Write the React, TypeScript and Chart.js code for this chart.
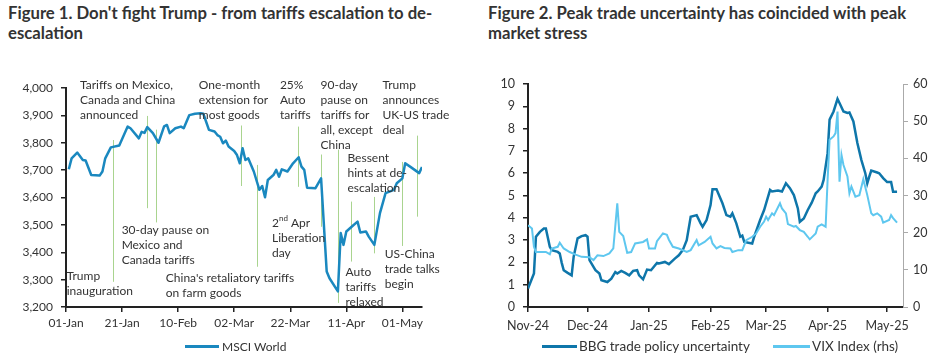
import React, { useEffect, useRef } from "react";
import { Chart, registerables } from "chart.js";

Chart.register(...registerables);

// ---------------- Figure 1 data ----------------
// day offset from 01-Jan-2025
const msciDays = [1, 2, 4, 6, 7, 9, 12, 13, 14, 16, 19, 22, 23, 26, 27, 28, 29, 31, 33, 35, 36, 37, 39, 41, 42, 44, 46, 48, 49, 51, 53, 54, 55, 56, 57, 58, 60, 61, 62, 63, 64, 65, 67, 69, 70, 71, 72, 74, 75, 76, 77, 79, 81, 83, 84, 85, 86, 89, 91, 93, 94, 97, 98, 99, 100, 102, 104, 105, 107, 108, 110, 112, 114, 117, 118, 120, 121, 123, 126, 127];
const msciValues = [3703, 3743, 3764, 3737, 3735, 3682, 3680, 3695, 3743, 3783, 3790, 3859, 3853, 3816, 3840, 3836, 3857, 3835, 3800, 3860, 3865, 3835, 3853, 3859, 3853, 3901, 3906, 3908, 3906, 3847, 3841, 3828, 3822, 3798, 3808, 3786, 3770, 3755, 3725, 3780, 3737, 3743, 3695, 3628, 3642, 3601, 3664, 3682, 3701, 3676, 3703, 3695, 3725, 3747, 3713, 3701, 3636, 3634, 3670, 3330, 3305, 3257, 3470, 3427, 3476, 3494, 3512, 3472, 3476, 3457, 3427, 3543, 3616, 3628, 3652, 3670, 3725, 3711, 3689, 3711];
const fig1TickDays = [0, 20, 40, 60, 80, 100, 120];
const fig1TickLabels = ["01-Jan", "21-Jan", "10-Feb", "02-Mar", "22-Mar", "11-Apr", "01-May"];

const fig1EventTexts: string[][] = [
  ["Trump", "inauguration"],
  ["Tariffs on Mexico,", "Canada and China", "announced"],
  ["30-day pause on", "Mexico and", "Canada tariffs"],
  ["One-month", "extension for", "most goods"],
  ["China's retaliatory tariffs", "on farm goods"],
  ["25%", "Auto", "tariffs"],
  ["2nd Apr", "Liberation", "day"],
  ["90-day", "pause on", "tariffs for", "all, except", "China"],
  ["Auto", "tariffs", "relaxed"],
  ["Bessent", "hints at de-", "escalation"],
  ["US-China", "trade talks", "begin"],
  ["Trump", "announces", "UK-US trade", "deal"],
];
const fig1EventTextDays = [0.25, 5, 19.85, 47.4, 35.6, 76.3, 73.5, 90.8, 99.7, 100.4, 113.7, 112.9];
const fig1EventTextValues = [3313, 4011, 3479, 4011, 3305, 4011, 3508, 4011, 3329, 3745, 3394, 4011];
const fig1EventLineDays = [16.75, 28.8, 32.1, 62.6, 68, 82.7, 91.1, 96.9, 101.8, 109.8, 120, 125.3];
const fig1EventLineTops = [3810, 3898, 3848, 3863, 3719, 3859, 3757, 3775, 3585, 3602, 3730, 3826];
const fig1EventLineBottoms = [3292, 3561, 3509, 3642, 3347, 3639, 3493, 3215, 3366, 3396, 3423, 3530];

// ---------------- Figure 2 data ----------------
// day offset from 01-Nov-2024
const bbgDays = [0, 1, 3, 4, 6, 8, 9, 11, 12, 15, 16, 17, 18, 20, 22, 23, 25, 27, 29, 30, 31, 33, 34, 36, 37, 40, 42, 44, 45, 47, 49, 51, 53, 55, 56, 58, 60, 62, 65, 66, 69, 71, 74, 76, 78, 80, 82, 85, 87, 88, 90, 92, 93, 95, 98, 100, 102, 103, 105, 107, 108, 109, 113, 114, 117, 119, 122, 123, 126, 128, 130, 132, 134, 136, 137, 139, 141, 143, 145, 146, 148, 149, 151, 152, 154, 156, 157, 159, 161, 162, 164, 166, 168, 170, 171, 172, 173, 176, 177, 179, 181, 183, 184, 186];
const bbgValues = [0.83, 1.05, 1.5, 3.15, 3.37, 3.52, 3.52, 2.7, 2.55, 2.47, 2.4, 1.98, 1.65, 1.53, 1.42, 2.25, 3.08, 3.18, 3.22, 3.15, 2.1, 1.8, 1.65, 1.5, 1.2, 1.12, 1.27, 1.57, 1.5, 1.62, 1.53, 1.42, 1.62, 1.65, 1.42, 1.24, 1.68, 1.65, 1.98, 1.95, 2.02, 1.92, 2.17, 2.32, 2.55, 3.0, 4.05, 4.12, 3.75, 3.6, 3.9, 4.57, 5.28, 5.28, 4.65, 4.12, 4.05, 4.2, 3.75, 3.15, 3.2, 2.92, 2.85, 3.15, 3.9, 4.35, 5.25, 5.18, 5.22, 5.18, 5.55, 5.33, 5.02, 4.42, 3.82, 3.97, 4.35, 4.68, 5.1, 5.18, 5.4, 5.7, 6.9, 8.4, 8.77, 9.33, 9.15, 8.77, 8.7, 8.72, 8.32, 7.35, 6.6, 6.0, 5.55, 5.85, 6.12, 6.03, 6.0, 5.78, 5.6, 5.6, 5.17, 5.17];
const vixDays = [0, 2, 3, 4, 7, 9, 11, 12, 15, 16, 18, 21, 24, 27, 31, 33, 35, 38, 41, 43, 45, 46, 48, 50, 52, 54, 58, 60, 61, 64, 65, 68, 70, 71, 73, 76, 80, 82, 85, 86, 89, 92, 93, 95, 97, 99, 102, 103, 106, 108, 110, 113, 115, 117, 119, 120, 121, 123, 124, 127, 128, 130, 131, 134, 135, 137, 139, 141, 142, 145, 146, 148, 150, 151, 152, 154, 155, 156, 157, 158, 159, 161, 162, 163, 165, 167, 169, 171, 173, 174, 176, 178, 179, 182, 183, 184, 186];
const vixValues = [22.0, 21.1, 16.2, 14.8, 14.8, 14.8, 14.2, 15.75, 16.2, 17.3, 15.75, 14.8, 14.1, 13.5, 13.4, 12.6, 13.9, 13.7, 14.4, 15.75, 27.9, 20.2, 19.1, 14.6, 14.8, 17.1, 17.5, 18.2, 15.75, 15.75, 17.7, 19.8, 19.4, 18.1, 16.2, 15.75, 14.8, 15.3, 18.0, 16.6, 17.5, 18.9, 17.1, 15.75, 16.4, 15.9, 15.75, 14.8, 15.3, 15.3, 18.0, 18.9, 19.8, 21.6, 23.0, 24.3, 23.4, 25.2, 24.7, 27.9, 26.5, 25.2, 22.3, 21.6, 21.8, 20.7, 20.2, 18.9, 18.2, 19.8, 21.6, 22.2, 21.6, 34.2, 45.0, 45.9, 46.8, 52.6, 33.7, 40.9, 38.2, 35.1, 30.6, 32.4, 29.7, 30.1, 34.4, 30.1, 25.2, 24.7, 25.2, 24.3, 22.7, 23.4, 24.7, 23.9, 22.7];
const fig2TickDays = [0, 30, 61, 92, 120, 151, 181];
const fig2TickLabels = ["Nov-24", "Dec-24", "Jan-25", "Feb-25", "Mar-25", "Apr-25", "May-25"];

// ---------------- styles ----------------
const FONT = "Lato, 'Liberation Sans', sans-serif";
const TEXT = "#333333";
const MSCI_COLOR = "#1a88bf";
const BBG_COLOR = "#0e76aa";
const VIX_COLOR = "#5ec7ef";
const EVENT_LINE = "#a9d48f";

function drawEventLine(ctx: CanvasRenderingContext2D, text: string, x: number, y: number) {
  if (text.startsWith("2nd")) {
    ctx.fillText("2", x, y);
    const w = ctx.measureText("2").width;
    ctx.save();
    ctx.font = `8px ${FONT}`;
    ctx.fillText("nd", x + w, y - 4);
    const w2 = ctx.measureText("nd").width;
    ctx.restore();
    ctx.fillText(text.slice(3), x + w + w2, y);
  } else {
    ctx.fillText(text, x, y);
  }
}

const eventsPlugin = {
  id: "fig1Events",
  beforeDatasetsDraw(chart: any) {
    const { ctx, scales } = chart;
    const x = scales.x;
    const y = scales.y;
    ctx.save();
    ctx.strokeStyle = EVENT_LINE;
    ctx.lineWidth = 1;
    fig1EventLineDays.forEach((d, i) => {
      const px = Math.round(x.getPixelForValue(d)) + 0.5;
      ctx.beginPath();
      ctx.moveTo(px, y.getPixelForValue(fig1EventLineTops[i]));
      ctx.lineTo(px, y.getPixelForValue(fig1EventLineBottoms[i]));
      ctx.stroke();
    });
    ctx.restore();
  },
  afterDatasetsDraw(chart: any) {
    const { ctx, scales } = chart;
    const x = scales.x;
    const y = scales.y;
    ctx.save();
    ctx.fillStyle = TEXT;
    ctx.font = `12px ${FONT}`;
    ctx.textBaseline = "middle";
    ctx.textAlign = "left";
    fig1EventTexts.forEach((lines, i) => {
      const px = x.getPixelForValue(fig1EventTextDays[i]);
      const py = y.getPixelForValue(fig1EventTextValues[i]);
      lines.forEach((t, j) => drawEventLine(ctx, t, px, py + j * 15));
    });
    ctx.restore();
  },
};

function Figure1() {
  const ref = useRef<HTMLCanvasElement>(null);
  useEffect(() => {
    const chart = new Chart(ref.current as HTMLCanvasElement, {
      type: "line",
      data: {
        datasets: [
          {
            label: "MSCI World",
            data: msciDays.map((d, i) => ({ x: d, y: msciValues[i] })),
            borderColor: MSCI_COLOR,
            borderWidth: 2.5,
            pointRadius: 0,
            tension: 0,
            borderJoinStyle: "round",
          },
        ],
      },
      options: {
        animation: false,
        responsive: false,
        events: [],
        layout: { padding: { top: 88, right: 46, bottom: 20, left: 0 } },
        plugins: { legend: { display: false }, tooltip: { enabled: false } },
        scales: {
          x: {
            type: "linear",
            min: 0,
            max: 127,
            afterBuildTicks: (s: any) => {
              s.ticks = fig1TickDays.map((v) => ({ value: v }));
            },
            afterFit: (s: any) => {
              s.height = 36;
            },
            ticks: {
              autoSkip: false,
              maxRotation: 0,
              padding: 4,
              color: TEXT,
              font: { family: FONT, size: 12 },
              callback: (_v: any, i: number) => fig1TickLabels[i],
            },
            grid: { drawOnChartArea: false, drawTicks: true, tickLength: 5, color: "#222", lineWidth: 1.5 },
            border: { display: true, color: "#222", width: 2 },
          },
          y: {
            type: "linear",
            min: 3200,
            max: 4000,
            afterFit: (s: any) => {
              s.width = 66;
            },
            ticks: {
              stepSize: 100,
              padding: 8,
              color: TEXT,
              font: { family: FONT, size: 12 },
              callback: (v: any) => Number(v).toLocaleString("en-US"),
            },
            grid: { drawOnChartArea: false, drawTicks: true, tickLength: 5, color: "#222", lineWidth: 1.5 },
            border: { display: true, color: "#222", width: 2 },
          },
        },
      },
      plugins: [eventsPlugin],
    } as any);
    return () => chart.destroy();
  }, []);
  return <canvas ref={ref} width={468} height={363} style={{ position: "absolute", left: 0, top: 0 }} />;
}

function Figure2() {
  const ref = useRef<HTMLCanvasElement>(null);
  useEffect(() => {
    const chart = new Chart(ref.current as HTMLCanvasElement, {
      type: "line",
      data: {
        datasets: [
          {
            label: "VIX Index (rhs)",
            data: vixDays.map((d, i) => ({ x: d, y: vixValues[i] })),
            borderColor: VIX_COLOR,
            borderWidth: 2,
            pointRadius: 0,
            tension: 0,
            yAxisID: "y1",
            order: 0,
          },
          {
            label: "BBG trade policy uncertainty",
            data: bbgDays.map((d, i) => ({ x: d, y: bbgValues[i] })),
            borderColor: BBG_COLOR,
            borderWidth: 2.5,
            pointRadius: 0,
            tension: 0,
            yAxisID: "y",
            order: 1,
          },
        ],
      },
      options: {
        animation: false,
        responsive: false,
        events: [],
        layout: { padding: { top: 84, right: 0, bottom: 20, left: 0 } },
        plugins: { legend: { display: false }, tooltip: { enabled: false } },
        scales: {
          x: {
            type: "linear",
            min: 0,
            max: 189,
            afterBuildTicks: (s: any) => {
              s.ticks = fig2TickDays.map((v) => ({ value: v }));
            },
            afterFit: (s: any) => {
              s.height = 36;
            },
            ticks: {
              autoSkip: false,
              maxRotation: 0,
              padding: 6,
              color: TEXT,
              font: { family: FONT, size: 12.5 },
              callback: (_v: any, i: number) => fig2TickLabels[i],
            },
            grid: { drawOnChartArea: false, drawTicks: true, tickLength: 5, color: "#222", lineWidth: 1.5 },
            border: { display: true, color: "#222", width: 2 },
          },
          y: {
            type: "linear",
            position: "left",
            min: 0,
            max: 10,
            afterFit: (s: any) => {
              s.width = 60;
            },
            ticks: { stepSize: 1, padding: 8, color: TEXT, font: { family: FONT, size: 12.5 } },
            grid: { drawOnChartArea: false, drawTicks: true, tickLength: 5, color: "#222", lineWidth: 1.5 },
            border: { display: true, color: "#222", width: 2 },
          },
          y1: {
            type: "linear",
            position: "right",
            min: 0,
            max: 60,
            afterFit: (s: any) => {
              s.width = 32;
            },
            ticks: { stepSize: 10, padding: 5, color: TEXT, font: { family: FONT, size: 12.5 } },
            grid: { drawOnChartArea: false, drawTicks: true, tickLength: 5, color: "#aaa", lineWidth: 1 },
            border: { display: true, color: "#aaa", width: 1 },
          },
        },
      },
    } as any);
    return () => chart.destroy();
  }, []);
  return <canvas ref={ref} width={467} height={363} style={{ position: "absolute", left: 468, top: 0 }} />;
}

const titleStyle: React.CSSProperties = {
  position: "absolute",
  top: 3,
  fontFamily: FONT,
  fontWeight: 700,
  fontSize: 16.7,
  lineHeight: "20px",
  color: "#333",
  whiteSpace: "nowrap",
};

const legendText: React.CSSProperties = {
  position: "absolute",
  top: 339,
  fontFamily: FONT,
  fontSize: 12,
  lineHeight: "16px",
  color: TEXT,
  whiteSpace: "nowrap",
};

function LegendLine({ left, width, color }: { left: number; width: number; color: string }) {
  return <div style={{ position: "absolute", left, top: 345, width, height: 3, background: color }} />;
}

export default function App() {
  return (
    <div style={{ position: "fixed", left: 0, top: 0, width: 935, height: 363, background: "#fff", overflow: "hidden" }}>
      <div style={{ ...titleStyle, left: 8 }}>
        Figure 1. Don't fight Trump - from tariffs escalation to de-
        <br />
        escalation
      </div>
      <div style={{ ...titleStyle, left: 488 }}>
        Figure 2. Peak trade uncertainty has coincided with peak
        <br />
        market stress
      </div>
      <Figure1 />
      <Figure2 />
      <LegendLine left={185} width={34} color={MSCI_COLOR} />
      <div style={{ ...legendText, left: 222 }}>MSCI World</div>
      <LegendLine left={542} width={35} color={BBG_COLOR} />
      <div style={{ ...legendText, left: 579, fontSize: 13.5, top: 338 }}>BBG trade policy uncertainty</div>
      <LegendLine left={773} width={37} color={VIX_COLOR} />
      <div style={{ ...legendText, left: 812, fontSize: 13.5, top: 338 }}>VIX Index (rhs)</div>
    </div>
  );
}
